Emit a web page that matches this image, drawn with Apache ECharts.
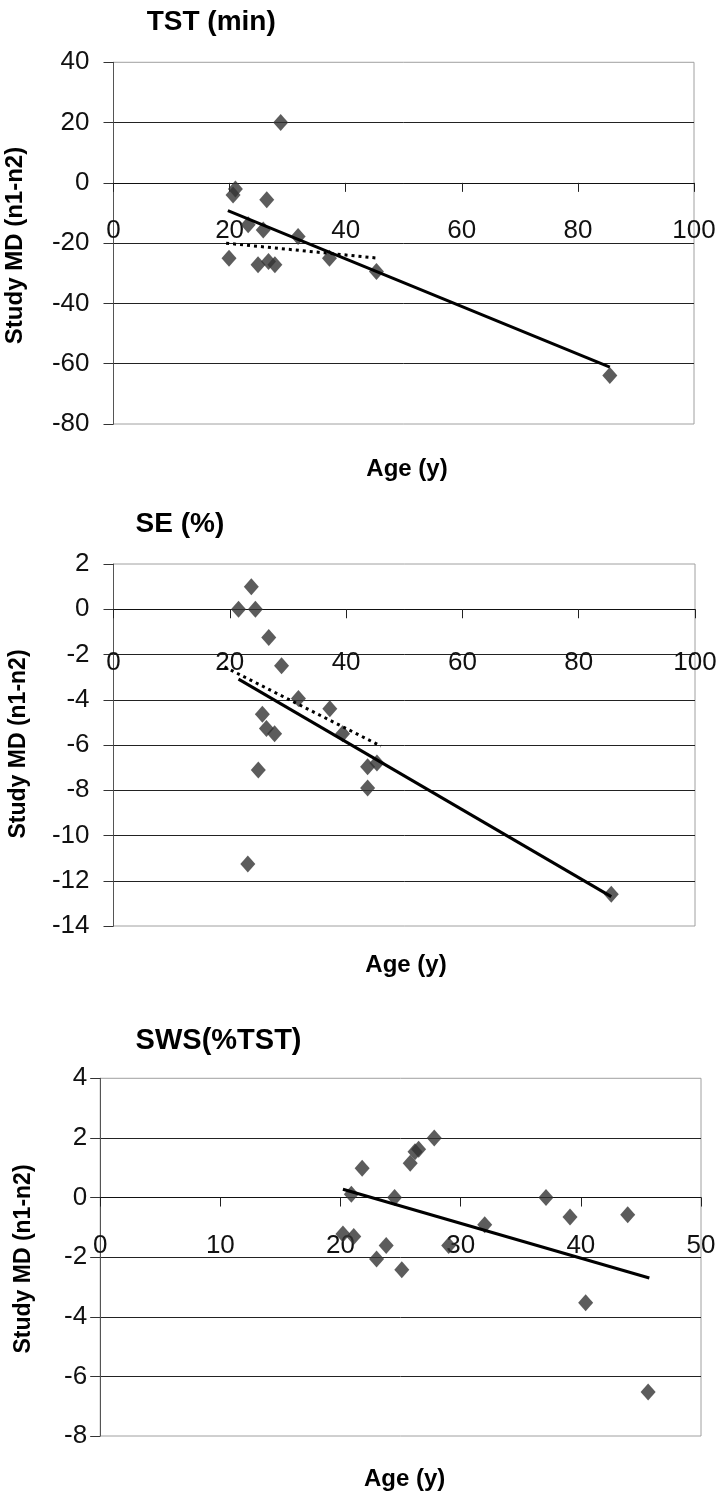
<!DOCTYPE html>
<html>
<head>
<meta charset="utf-8">
<script src="https://cdn.jsdelivr.net/npm/echarts@6/dist/echarts.min.js"></script>
<style>
  html, body { margin: 0; padding: 0; background: #fff; }
  #chart { width: 721px; height: 1496px; }
</style>
</head>
<body>
<div id="chart"></div>
<script>
// ---- TST (min) ----
const tstAge = [28.8, 20.6, 21.0, 26.4, 23.2, 25.8, 31.8, 19.9, 24.9, 26.7, 27.8, 37.2, 45.3, 85.5];
const tstMD  = [20, -4, -2, -5.6, -13.9, -15.6, -17.8, -25.0, -27.2, -26.1, -27.2, -25.0, -29.4, -63.9];
const tstTrendAge = [19.7, 85.5];
const tstTrendMD  = [-9.2, -61.1];
const tstTrendYoungAge = [19.4, 45.7];
const tstTrendYoungMD  = [-20, -25];
const tstXTicks = [0, 20, 40, 60, 80, 100];
const tstYTicks = [-80, -60, -40, -20, 0, 20, 40];

// ---- SE (%) ----
const seAge = [21.5, 23.7, 24.4, 26.7, 28.9, 31.8, 37.2, 25.6, 26.3, 27.7, 24.9, 23.1, 39.4, 43.7, 45.3, 43.7, 85.6];
const seMD  = [0, 1.0, 0, -1.25, -2.5, -3.95, -4.4, -4.64, -5.27, -5.5, -7.1, -11.26, -5.5, -6.96, -6.8, -7.9, -12.6];
const seTrendAge = [21.5, 85.6];
const seTrendMD  = [-3.09, -12.7];
const seTrendYoungAge = [19.1, 46.0];
const seTrendYoungMD  = [-2.55, -6.05];
const seXTicks = [0, 20, 40, 60, 80, 100];
const seYTicks = [-14, -12, -10, -8, -6, -4, -2, 0, 2];

// ---- SWS (%TST) ----
const swsAge = [27.8, 26.5, 26.2, 25.8, 21.8, 20.9, 24.5, 37.1, 39.1, 43.9, 32.0, 20.2, 21.1, 23.8, 29.0, 23.0, 25.1, 40.4, 45.6];
const swsMD  = [2.0, 1.62, 1.54, 1.15, 0.98, 0.11, 0, 0, -0.65, -0.58, -0.91, -1.22, -1.31, -1.61, -1.61, -2.06, -2.42, -3.53, -6.52];
const swsTrendAge = [20.2, 45.7];
const swsTrendMD  = [0.28, -2.70];
const swsXTicks = [0, 10, 20, 30, 40, 50];
const swsYTicks = [-8, -6, -4, -2, 0, 2, 4];

const FONT = '"Liberation Sans", Arial, Helvetica, sans-serif';
const zip = (xs, ys) => xs.map((x, i) => [x, ys[i]]);

const panels = [
  {
    title: 'TST (min)', titleX: 146.7, titleY: 22.5, titleSize: 28,
    grid: { left: 113.5, top: 62.3, width: 580.5, height: 361.7 },
    xTicks: tstXTicks, yTicks: tstYTicks, xMargin: 35, yMargin: 24,
    points: zip(tstAge, tstMD),
    trend: zip(tstTrendAge, tstTrendMD),
    trendYoung: zip(tstTrendYoungAge, tstTrendYoungMD),
    yName: { x: 15, y: 245.5, size: 24 },
    ageLabel: { x: 407, y: 469 }
  },
  {
    title: 'SE (%)', titleX: 135.6, titleY: 524, titleSize: 28,
    grid: { left: 113.5, top: 564, width: 581.5, height: 362 },
    xTicks: seXTicks, yTicks: seYTicks, xMargin: 41, yMargin: 24,
    points: zip(seAge, seMD),
    trend: zip(seTrendAge, seTrendMD),
    trendYoung: zip(seTrendYoungAge, seTrendYoungMD),
    yName: { x: 19, y: 744, size: 23 },
    ageLabel: { x: 406, y: 965 }
  },
  {
    title: 'SWS(%TST)', titleX: 135.6, titleY: 1041, titleSize: 29,
    grid: { left: 100.2, top: 1078.3, width: 600.8, height: 357.7 },
    xTicks: swsXTicks, yTicks: swsYTicks, xMargin: 35, yMargin: 13,
    points: zip(swsAge, swsMD),
    trend: zip(swsTrendAge, swsTrendMD),
    trendYoung: null,
    yName: { x: 24, y: 1259, size: 23 },
    ageLabel: { x: 404.6, y: 1479 }
  }
];

const grid = [], xAxis = [], yAxis = [], series = [], graphic = [];

panels.forEach((p, i) => {
  grid.push(Object.assign({
    show: true, borderColor: '#a0a0a0', borderWidth: 1, backgroundColor: '#fff',
    containLabel: false
  }, p.grid));

  const xStep = p.xTicks[1] - p.xTicks[0];
  const yMin = p.yTicks[0], yMax = p.yTicks[p.yTicks.length - 1];
  const yStep = p.yTicks[1] - p.yTicks[0];
  // the age axis crosses the value axis at 0: lift it from the bottom edge by 0's share of the range
  const crossOffset = -p.grid.height * (0 - yMin) / (yMax - yMin);

  xAxis.push({
    type: 'value', gridIndex: i, position: 'bottom', offset: crossOffset,
    min: p.xTicks[0], max: p.xTicks[p.xTicks.length - 1], interval: xStep,
    axisLine: { show: true, onZero: false, lineStyle: { color: '#111', width: 1 } },
    axisTick: { show: true, inside: false, length: 9, lineStyle: { color: '#222' } },
    axisLabel: {
      show: true, margin: p.xMargin, fontFamily: FONT, fontSize: 26, color: '#111',
      showMinLabel: true, showMaxLabel: true
    },
    splitLine: { show: false }
  });

  yAxis.push({
    type: 'value', gridIndex: i,
    min: yMin, max: yMax, interval: yStep,
    axisLine: { show: true, onZero: false, lineStyle: { color: '#555', width: 1 } },
    axisTick: { show: true, inside: false, length: 10, lineStyle: { color: '#333' } },
    axisLabel: {
      show: true, margin: p.yMargin, fontFamily: FONT, fontSize: 26, color: '#111',
      showMinLabel: true, showMaxLabel: true
    },
    splitLine: {
      show: true, showMinLine: false, showMaxLine: false,
      lineStyle: { color: '#222', width: 1 }
    }
  });

  series.push({
    type: 'scatter', xAxisIndex: i, yAxisIndex: i,
    symbol: 'diamond', symbolSize: [15, 17],
    itemStyle: { color: '#333' },
    data: p.points, z: 3
  });

  series.push({
    type: 'line', xAxisIndex: i, yAxisIndex: i,
    data: p.trend, symbol: 'none', silent: true,
    lineStyle: { color: '#000', width: 3, type: 'solid' }, z: 4
  });

  if (p.trendYoung) {
    series.push({
      type: 'line', xAxisIndex: i, yAxisIndex: i,
      data: p.trendYoung, symbol: 'none', silent: true,
      lineStyle: { color: '#000', width: 3, type: [3, 4] }, z: 4
    });
  }

  graphic.push({
    type: 'text', x: p.titleX, y: p.titleY,
    style: {
      text: p.title, font: 'bold ' + p.titleSize + 'px ' + FONT, fill: '#000',
      textAlign: 'left', textVerticalAlign: 'middle'
    }
  });
  graphic.push({
    type: 'text', x: p.yName.x, y: p.yName.y, rotation: Math.PI / 2,
    style: {
      text: 'Study MD (n1-n2)', font: 'bold ' + p.yName.size + 'px ' + FONT, fill: '#000',
      textAlign: 'center', textVerticalAlign: 'middle'
    }
  });
  graphic.push({
    type: 'text', x: p.ageLabel.x, y: p.ageLabel.y,
    style: {
      text: 'Age (y)', font: 'bold 24px ' + FONT, fill: '#000',
      textAlign: 'center', textVerticalAlign: 'middle'
    }
  });
});

const chart = echarts.init(document.getElementById('chart'), null, { renderer: 'canvas' });
chart.setOption({
  backgroundColor: '#fff',
  animation: false,
  grid, xAxis, yAxis, series, graphic
});
</script>
</body>
</html>
